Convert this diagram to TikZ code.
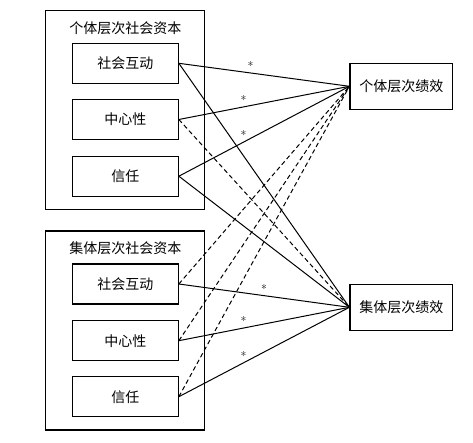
\documentclass[tikz,border=0pt]{standalone}
\usepackage{fontspec}
\newfontfamily\cjk{Noto Sans CJK SC}
\begin{document}
\begin{tikzpicture}[x=1pt,y=-1pt,
  every node/.style={font=\cjk\fontsize{14}{16}\selectfont},
  outerbox/.style={draw,line width=1.1pt,inner sep=0pt},
  itembox/.style={draw,line width=1.1pt,minimum width=106pt,minimum height=40pt,inner sep=0pt},
  perfbox/.style={draw,line width=1.1pt,minimum width=102.7pt,minimum height=46pt,inner sep=0pt},
  link/.style={line width=1pt},
  nslink/.style={line width=1pt,dash pattern=on 4.5pt off 3pt},
  star/.style={above=1pt,font=\fontsize{12}{12}\selectfont,inner sep=1pt}]
\useasboundingbox[fill=white] (0,0) rectangle (473,443);
% outer groups
\node[outerbox,minimum width=159pt,minimum height=199pt] (g1) at (125.2,109.8) {};
\node[outerbox,minimum width=159pt,minimum height=199pt] (g2) at (125.2,330.5) {};
\node (t1) at (125.3,28) {个体层次社会资本};
\node (t2) at (125.3,248.5) {集体层次社会资本};
% items
\node[itembox] (a1) at (125.3,63.3) {社会互动};
\node[itembox] (a2) at (125.3,119.5) {中心性};
\node[itembox] (a3) at (125.3,176.2) {信任};
\node[itembox] (b1) at (125.3,284) {社会互动};
\node[itembox] (b2) at (125.3,340.7) {中心性};
\node[itembox] (b3) at (125.3,396.7) {信任};
% outcomes
\node[perfbox] (p1) at (401.3,86.3) {个体层次绩效};
\node[perfbox] (p2) at (401.3,307.3) {集体层次绩效};
% connectors
\draw[link] (a1.east) -- node[pos=0.42,star]{*} (p1.west);
\draw[link] (a2.east) -- node[pos=0.38,star]{*} (p1.west);
\draw[link] (a3.east) -- node[pos=0.38,star]{*} (p1.west);
\draw[link] (a1.east) -- (p2.west);
\draw[nslink] (a2.east) -- (p2.west);
\draw[link] (a3.east) -- (p2.west);
\draw[nslink] (b1.east) -- (p1.west);
\draw[nslink] (b2.east) -- (p1.west);
\draw[nslink] (b3.east) -- (p1.west);
\draw[link] (b1.east) -- node[pos=0.5,star]{*} (p2.west);
\draw[link] (b2.east) -- node[pos=0.38,star]{*} (p2.west);
\draw[link] (b3.east) -- node[pos=0.38,star]{*} (p2.west);
\end{tikzpicture}
\end{document}
